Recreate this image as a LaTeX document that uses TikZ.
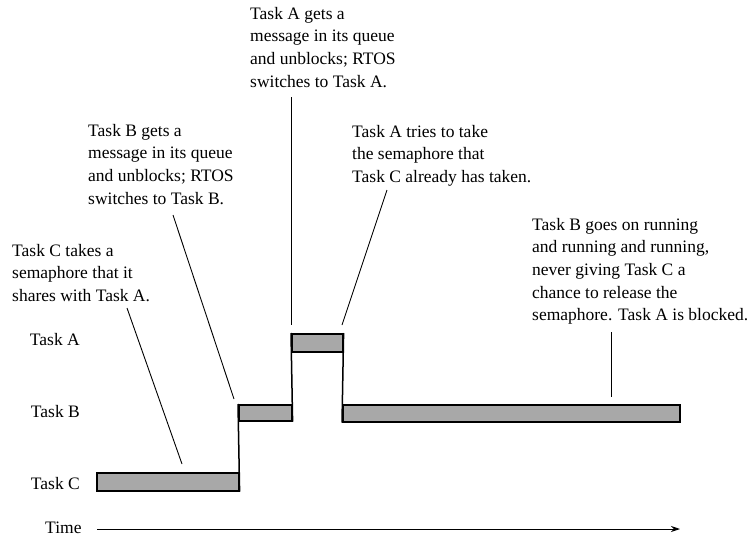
\documentclass[tikz,border=0pt]{standalone}
\usepackage{fontspec}
\setmainfont{Liberation Serif}
\usetikzlibrary{arrows.meta}
\begin{document}
\begin{tikzpicture}[x=1pt,y=-1pt,
  txt/.style={anchor=north west, inner sep=0pt, align=left, font=\fontsize{17.5}{22.6}\selectfont},
  lbl/.style={anchor=base east, inner sep=0pt, font=\fontsize{17.5}{22.6}\selectfont},
  bar/.style={draw=black, line width=1.6pt, fill=black!34, inner sep=0pt, anchor=north west},
  edge/.style={draw=black, line width=1.5pt},
  callout/.style={draw=black, line width=0.9pt},
  timearrow/.style={draw=black, line width=0.9pt, -{Stealth[length=9pt,width=6pt]}}
]
\useasboundingbox[fill=white] (0,0) rectangle (750,538);

% text blocks
\node[txt] (tA) at (250,7) {Task A gets a\\message in its queue\\and unblocks; RTOS\\switches to Task A.};
\node[txt] (tB) at (88,124) {Task B gets a\\message in its queue\\and unblocks; RTOS\\switches to Task B.};
\node[txt] (tAt) at (352,125) {Task A tries to take\\the semaphore that\\Task C already has taken.};
\node[txt] (tC) at (12,244) {Task C takes a\\semaphore that it\\shares with Task A.};
\node[txt] (tBg) at (532,218) {Task B goes on running\\and running and running,\\never giving Task C a\\chance to release the\\semaphore. Task A is blocked.};

% row labels
\node[lbl] (lA) at (80,345) {Task A};
\node[lbl] (lB) at (80,417) {Task B};
\node[lbl] (lC) at (80,489) {Task C};
\node[lbl, anchor=base west] (lT) at (45,533) {Time};

% bars
\node[bar, minimum width=142pt, minimum height=18pt] (barC) at (96,472) {};
\node[bar, minimum width=53pt, minimum height=16pt] (barB1) at (238,404) {};
\node[bar, minimum width=51pt, minimum height=18pt] (barA) at (291,333) {};
\node[bar, minimum width=337pt, minimum height=17pt] (barB2) at (342,404) {};

% switch edges
\draw[edge] (barB1.north west) -- (barC.south east);
\draw[edge] (barA.north west) -- (barB1.south east);
\draw[edge] (barA.north east) -- (barB2.south west);

% callouts
\coordinate (cC1) at (127,308);  \coordinate (cC2) at (182,464);
\coordinate (cB1) at (173,215);  \coordinate (cB2) at (234,399);
\coordinate (cA1) at (291,97);   \coordinate (cA2) at (291,325);
\coordinate (cAt1) at (387,190); \coordinate (cAt2) at (342,325);
\coordinate (cBg1) at (611,332); \coordinate (cBg2) at (611,397);
\draw[callout] (cC1) -- (cC2);
\draw[callout] (cB1) -- (cB2);
\draw[callout] (cA1) -- (cA2);
\draw[callout] (cAt1) -- (cAt2);
\draw[callout] (cBg1) -- (cBg2);

% time axis
\coordinate (t1) at (97,529);
\coordinate (t2) at (680,529);
\draw[timearrow] (t1) -- (t2);
\end{tikzpicture}
\end{document}
